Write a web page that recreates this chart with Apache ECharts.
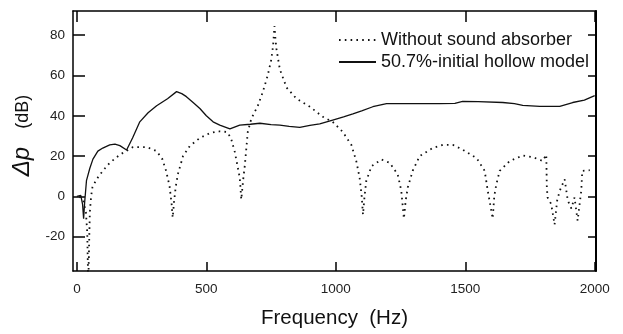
<!DOCTYPE html>
<html>
<head>
<meta charset="utf-8">
<script src="https://cdn.jsdelivr.net/npm/echarts@6/dist/echarts.min.js"></script>
<style>html,body{margin:0;padding:0;background:#fff;}#c{width:623px;height:334px;}</style>
</head>
<body>
<div id="c"></div>
<script>
// Solid curve: 50.7%-initial hollow model
var freqSolid = [0, 15, 22, 26, 30, 37, 50, 62, 81, 100, 127, 147, 166, 192, 215, 243, 275, 308, 350, 385, 405, 423, 450, 475, 500, 526, 552, 591, 629, 670, 707, 750, 784, 820, 861, 900, 938, 988, 1030, 1066, 1100, 1143, 1196, 1250, 1324, 1400, 1460, 1490, 1550, 1645, 1690, 1722, 1788, 1865, 1915, 1960, 2000];
var dbSolid   = [0, 0.5, -4, -11, -3, 7.8, 14, 18.5, 22.5, 24, 25.6, 26, 25.2, 23, 29, 37, 41.5, 45, 48.5, 52, 51, 49.5, 46.5, 43.6, 40, 37, 35.4, 33.5, 35.4, 35.8, 36.3, 35.6, 35.4, 34.8, 34.3, 35.2, 36, 37.9, 39.5, 41, 42.5, 44.5, 46, 46, 46, 46, 46.2, 47.2, 47, 46.6, 46, 45.2, 44.7, 44.7, 46.6, 47.8, 50];

// Dotted curve: without sound absorber
var freqDotted = [10, 25, 35, 40, 44, 47, 50, 55, 60, 76, 100, 127, 166, 217, 269, 308, 330, 345, 358, 366, 370, 375, 382, 390, 410, 436, 475, 514, 545, 580, 595, 610, 622, 629, 635, 642, 649, 660, 674, 699, 718, 737, 751, 758, 763, 767, 771, 784, 810, 848, 900, 950, 988, 1027, 1060, 1079, 1092, 1100, 1105, 1111, 1118, 1138, 1176, 1208, 1239, 1253, 1263, 1270, 1278, 1297, 1324, 1374, 1413, 1452, 1490, 1544, 1575, 1587, 1606, 1612, 1620, 1633, 1672, 1722, 1760, 1799, 1813, 1815, 1818, 1832, 1845, 1855, 1865, 1884, 1896, 1910, 1922, 1934, 1948, 1952, 1981];
var dbDotted   = [0, -2, -8, -18, -45, -25, -8, 0, 4.5, 8.5, 12.7, 16.7, 20.7, 24.5, 24.5, 22.5, 18.5, 12.5, 5, -3.8, -10.5, -3, 5, 11, 20, 25, 29, 31.4, 32.3, 32, 29, 22, 14, 9.3, -1.5, 8, 15.8, 32, 38.7, 45, 51.8, 60, 68, 75, 84.5, 78, 73, 63, 54, 48.5, 44.5, 39.5, 37, 32, 25.6, 17.6, 9.3, 0, -9, 0, 7.8, 15, 18.3, 16.7, 11, 2.8, -11, -2, 4.4, 12.7, 20, 24, 25.6, 25.6, 23.2, 19, 12.7, 2.8, -11, 0, 6, 12.7, 17.6, 20.3, 19.5, 17.6, 20.7, 5, -0.5, -3.8, -14, -2, 2.8, 8.5, -2, -6, -0.5, -12, 2.8, 12.7, 13];

var xTicks = [0, 500, 1000, 1500, 2000];
var yTicks = [-20, 0, 20, 40, 60, 80];
var seriesNames = ['Without sound absorber', '50.7%-initial hollow model'];

function pairs(xs, ys) { return xs.map(function (x, i) { return [x, ys[i]]; }); }
function plain(v) { return String(v); }

var font = 'Liberation Sans, Arial, sans-serif';
var xMin = -15, xMax = 2005, yMin = -37, yMax = 92;

var chart = echarts.init(document.getElementById('c'), null, {renderer: 'canvas'});
chart.setOption({
  animation: false,
  backgroundColor: '#ffffff',
  grid: {left: 73, right: 27, top: 11, bottom: 60, show: false},
  legend: {
    orient: 'vertical', left: 338, top: 31, padding: 0,
    itemWidth: 37, itemHeight: 14, itemGap: 4,
    itemStyle: {opacity: 0},
    textStyle: {fontFamily: font, fontSize: 18, lineHeight: 18, color: '#111'},
    data: seriesNames
  },
  xAxis: [{
    type: 'value', min: xMin, max: xMax,
    name: 'Frequency  (Hz)', nameLocation: 'middle', nameGap: 37,
    nameTextStyle: {fontFamily: font, fontSize: 20.5, color: '#111'},
    axisLine: {show: true, onZero: false, lineStyle: {color: '#000', width: 1.5}},
    axisTick: {show: true, inside: true, length: 9, customValues: xTicks, lineStyle: {color: '#000', width: 1.5}},
    axisLabel: {customValues: xTicks, formatter: plain, margin: 11, fontFamily: font, fontSize: 13.5, color: '#222'},
    splitLine: {show: false}
  }, {
    type: 'value', min: xMin, max: xMax, position: 'top',
    axisLine: {show: true, onZero: false, lineStyle: {color: '#000', width: 1.5}},
    axisTick: {show: true, inside: true, length: 11, customValues: xTicks, lineStyle: {color: '#000', width: 1.5}},
    axisLabel: {show: false},
    splitLine: {show: false}
  }],
  yAxis: [{
    type: 'value', min: yMin, max: yMax,
    name: '{a|Δp}{s|}{b|(dB)}', nameLocation: 'middle', nameRotate: 90, nameGap: 34,
    nameTextStyle: {
      padding: [0, 0, 0, 11],
      rich: {
        a: {fontFamily: font, fontSize: 24, fontStyle: 'italic', color: '#111'},
        s: {width: 18},
        b: {fontFamily: font, fontSize: 18, color: '#111'}
      }
    },
    axisLine: {show: true, onZero: false, lineStyle: {color: '#000', width: 1.5}},
    axisTick: {show: true, inside: true, length: 12, customValues: yTicks, lineStyle: {color: '#000', width: 1.5}},
    axisLabel: {customValues: yTicks, formatter: plain, margin: 8, fontFamily: font, fontSize: 13.5, color: '#222'},
    splitLine: {show: false}
  }, {
    type: 'value', min: yMin, max: yMax, position: 'right',
    axisLine: {show: true, onZero: false, lineStyle: {color: '#000', width: 2}},
    axisTick: {show: true, inside: true, length: 8, customValues: yTicks, lineStyle: {color: '#000', width: 1.5}},
    axisLabel: {show: false},
    splitLine: {show: false}
  }],
  series: [{
    name: seriesNames[0], type: 'line', xAxisIndex: 0, yAxisIndex: 0,
    data: pairs(freqDotted, dbDotted),
    showSymbol: false, symbol: 'none', clip: true,
    lineStyle: {color: '#111', width: 1.8, type: [1.6, 4.2]},
    itemStyle: {color: '#111'}
  }, {
    name: seriesNames[1], type: 'line', xAxisIndex: 0, yAxisIndex: 0,
    data: pairs(freqSolid, dbSolid),
    showSymbol: false, symbol: 'none', clip: true,
    lineStyle: {color: '#111', width: 1.3},
    itemStyle: {color: '#111'}
  }]
});
</script>
</body>
</html>
